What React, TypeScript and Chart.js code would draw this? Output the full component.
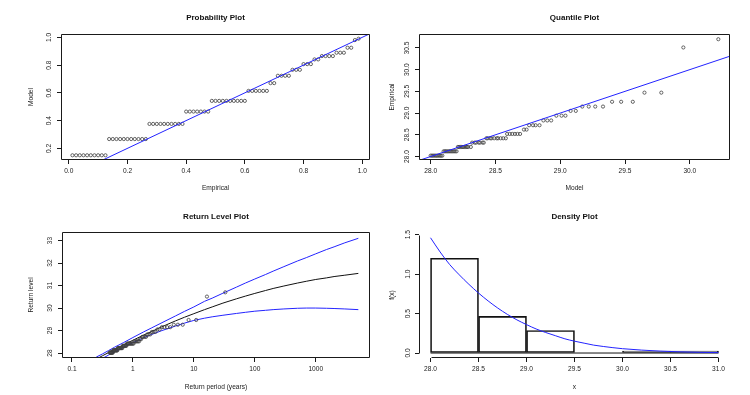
import React, { useEffect, useRef } from 'react';
import { Chart, registerables } from 'chart.js';

Chart.register(...registerables);

const FONT_FAMILY = '"Liberation Sans", Arial, Helvetica, sans-serif';
const TEXT = '#1a1a1a';
const FRAME = '#1a1a1a';
const BLUE = '#2323ff';
const POINT = '#404040';
const TITLE_SIZE = 8;
const LABEL_SIZE = 6.6;
const TICK_SIZE = 6.6;
const TICK_LEN = 4;

Chart.defaults.font.family = FONT_FAMILY;
Chart.defaults.color = TEXT;

// ---------------- Probability plot ----------------
const probEmpirical = [
  0.0125, 0.025, 0.0375, 0.05, 0.0625, 0.075, 0.0875, 0.1, 0.1125, 0.125,
  0.1375, 0.15, 0.1625, 0.175, 0.1875, 0.2, 0.2125, 0.225, 0.2375, 0.25, 0.2625,
  0.275, 0.2875, 0.3, 0.3125, 0.325, 0.3375, 0.35, 0.3625, 0.375, 0.3875,
  0.4, 0.4125, 0.425, 0.4375, 0.45, 0.4625, 0.475,
  0.4875, 0.5, 0.5125, 0.525, 0.5375, 0.55, 0.5625, 0.575, 0.5875, 0.6,
  0.6125, 0.625, 0.6375, 0.65, 0.6625, 0.675,
  0.6875, 0.7,
  0.7125, 0.725, 0.7375, 0.75,
  0.7625, 0.775, 0.7875,
  0.8, 0.8125, 0.825,
  0.8375, 0.85,
  0.8625, 0.875, 0.8875, 0.9,
  0.9125, 0.925, 0.9375,
  0.95, 0.9625,
  0.975, 0.9875,
];
const probModel = [
  0.15, 0.15, 0.15, 0.15, 0.15, 0.15, 0.15, 0.15, 0.15, 0.15,
  0.267, 0.267, 0.267, 0.267, 0.267, 0.267, 0.267, 0.267, 0.267, 0.267, 0.267,
  0.376, 0.376, 0.376, 0.376, 0.376, 0.376, 0.376, 0.376, 0.376, 0.376,
  0.465, 0.465, 0.465, 0.465, 0.465, 0.465, 0.465,
  0.542, 0.542, 0.542, 0.542, 0.542, 0.542, 0.542, 0.542, 0.542, 0.542,
  0.614, 0.614, 0.614, 0.614, 0.614, 0.614,
  0.67, 0.67,
  0.723, 0.723, 0.723, 0.723,
  0.766, 0.766, 0.766,
  0.807, 0.807, 0.807,
  0.841, 0.841,
  0.865, 0.865, 0.865, 0.865,
  0.889, 0.889, 0.889,
  0.925, 0.925,
  0.98, 0.99,
];
const probRefLine = [-0.1, 1.1];
const probXTicks = [0, 0.2, 0.4, 0.6, 0.8, 1.0];
const probXTickLabels = ['0.0', '0.2', '0.4', '0.6', '0.8', '1.0'];
const probYTicks = [0.2, 0.4, 0.6, 0.8, 1.0];
const probYTickLabels = ['0.2', '0.4', '0.6', '0.8', '1.0'];

// ---------------- Quantile plot ----------------
const quantModel = [
  28.0, 28.01, 28.02, 28.03, 28.04, 28.05, 28.06, 28.07, 28.08, 28.09,
  28.1, 28.11, 28.12, 28.13, 28.14, 28.15, 28.16, 28.17, 28.18, 28.19, 28.2,
  28.21, 28.22, 28.23, 28.24, 28.25, 28.26, 28.27, 28.28, 28.29, 28.31,
  28.32, 28.34, 28.35, 28.37, 28.38, 28.4, 28.41,
  28.43, 28.44, 28.46, 28.47, 28.49, 28.51, 28.52, 28.54, 28.56, 28.58,
  28.59, 28.61, 28.63, 28.65, 28.67, 28.69,
  28.72, 28.74,
  28.76, 28.79, 28.81, 28.84,
  28.87, 28.9, 28.93,
  28.97, 29.01, 29.04,
  29.08, 29.12,
  29.17, 29.22, 29.27, 29.33,
  29.4, 29.47, 29.56,
  29.65, 29.78,
  29.95, 30.22,
];
// sorted observations (shared by the quantile and return level plots)
const sortedData = [
  28.02, 28.02, 28.02, 28.02, 28.02, 28.02, 28.02, 28.02, 28.02, 28.02,
  28.12, 28.12, 28.12, 28.12, 28.12, 28.12, 28.12, 28.12, 28.12, 28.12, 28.12,
  28.22, 28.22, 28.22, 28.22, 28.22, 28.22, 28.22, 28.22, 28.22, 28.22,
  28.32, 28.32, 28.32, 28.32, 28.32, 28.32, 28.32,
  28.42, 28.42, 28.42, 28.42, 28.42, 28.42, 28.42, 28.42, 28.42, 28.42,
  28.52, 28.52, 28.52, 28.52, 28.52, 28.52,
  28.62, 28.62,
  28.72, 28.72, 28.72, 28.72,
  28.83, 28.83, 28.83,
  28.94, 28.94, 28.94,
  29.05, 29.05,
  29.15, 29.15, 29.15, 29.15,
  29.26, 29.26, 29.26,
  29.47, 29.47,
  30.51, 30.7,
];
const quantRefLine = [27, 31];
const quantXTicks = [28, 28.5, 29, 29.5, 30];
const quantXTickLabels = ['28.0', '28.5', '29.0', '29.5', '30.0'];
const quantYTicks = [28, 28.5, 29, 29.5, 30, 30.5];
const quantYTickLabels = ['28.0', '28.5', '29.0', '29.5', '30.0', '30.5'];

// ---------------- Return level plot ----------------
const returnPeriods = [
  0.415, 0.421, 0.426, 0.432, 0.437, 0.443, 0.449, 0.456, 0.462, 0.469,
  0.475, 0.482, 0.49, 0.497, 0.505, 0.513, 0.521, 0.529, 0.538, 0.547, 0.556,
  0.566, 0.575, 0.586, 0.596, 0.607, 0.619, 0.631, 0.643, 0.656, 0.669,
  0.683, 0.698, 0.713, 0.729, 0.745, 0.763, 0.781,
  0.8, 0.82, 0.841, 0.863, 0.886, 0.911, 0.937, 0.965, 0.994, 1.025,
  1.058, 1.093, 1.131, 1.171, 1.215, 1.262,
  1.312, 1.367,
  1.426, 1.491, 1.562, 1.64,
  1.726, 1.822, 1.929,
  2.05, 2.187, 2.343,
  2.523, 2.733,
  2.982, 3.28, 3.644, 4.1,
  4.686, 5.467, 6.56,
  8.2, 10.93,
  16.4, 32.8,
];
const rlCurvePeriods = [0.25, 0.316, 0.398, 0.5, 0.708, 1, 1.5, 2, 3, 5, 7, 10, 15, 20, 30, 50, 70, 100, 150, 200, 300, 500, 700, 1000, 1500, 2000, 3000, 5000];
const rlEstimate = [27.73, 27.88, 28.02, 28.16, 28.37, 28.57, 28.8, 28.95, 29.17, 29.43, 29.59, 29.75, 29.93, 30.05, 30.22, 30.41, 30.53, 30.65, 30.78, 30.87, 30.98, 31.11, 31.19, 31.27, 31.34, 31.4, 31.46, 31.54];
const rlUpper = [27.82, 27.96, 28.11, 28.26, 28.47, 28.69, 28.94, 29.11, 29.35, 29.65, 29.85, 30.05, 30.3, 30.44, 30.66, 30.93, 31.11, 31.29, 31.49, 31.64, 31.84, 32.09, 32.24, 32.41, 32.6, 32.72, 32.9, 33.1];
const rlLower = [27.62, 27.76, 27.91, 28.05, 28.26, 28.46, 28.68, 28.82, 29.0, 29.2, 29.33, 29.45, 29.55, 29.61, 29.68, 29.76, 29.81, 29.86, 29.9, 29.93, 29.96, 29.99, 30.0, 30.0, 29.99, 29.98, 29.96, 29.93];
const rlXTicks = [0.1, 1, 10, 100, 1000];
const rlXTickLabels = ['0.1', '1', '10', '100', '1000'];
const rlYTicks = [28, 29, 30, 31, 32, 33];
const rlYTickLabels = ['28', '29', '30', '31', '32', '33'];

// ---------------- Density plot ----------------
const histBreaks = [28, 28.5, 29, 29.5, 30, 30.5, 31];
const histDensity = [1.2, 0.465, 0.285, 0, 0.025, 0.025];
const densityX = [28.0, 28.1, 28.2, 28.3, 28.4, 28.5, 28.6, 28.7, 28.8, 28.9, 29.0, 29.1, 29.2, 29.3, 29.4, 29.5, 29.6, 29.7, 29.8, 29.9, 30.0, 30.2, 30.4, 30.6, 30.8, 31.0];
const densityY = [1.46, 1.28, 1.12, 0.99, 0.87, 0.76, 0.66, 0.57, 0.49, 0.42, 0.36, 0.305, 0.26, 0.22, 0.18, 0.15, 0.125, 0.1, 0.083, 0.068, 0.055, 0.037, 0.024, 0.015, 0.009, 0.005];
const densXTicks = [28, 28.5, 29, 29.5, 30, 30.5, 31];
const densXTickLabels = ['28.0', '28.5', '29.0', '29.5', '30.0', '30.5', '31.0'];
const densYTicks = [0, 0.5, 1, 1.5];
const densYTickLabels = ['0.0', '0.5', '1.0', '1.5'];

// ---------------- helpers ----------------
type Area = { l: number; t: number; r: number; b: number };
type AxisSpec = {
  type: 'linear' | 'logarithmic';
  min: number;
  max: number;
  ticks: number[];
  labels: string[];
  title: string;
  tickPad: number;
};
type PanelSpec = {
  key: string;
  x: number;
  y: number;
  w: number;
  h: number;
  area: Area;
  titleY: number;
  xLabelY: number;
  yLabelX: number;
  title: string;
  chartType: 'scatter' | 'bar';
  xAxis: AxisSpec;
  yAxis: AxisSpec;
  datasets: any[];
  frame: any;
};

const framePlugin = {
  id: 'rFrame',
  afterDatasetsDraw(chart: any, _args: any, opts: any) {
    const { ctx, chartArea: a } = chart;
    ctx.save();
    ctx.strokeStyle = FRAME;
    ctx.lineWidth = 1;
    ctx.beginPath();
    const L = Math.round(a.left) + 0.5;
    const R = Math.round(a.right) - 0.5;
    const T = Math.round(a.top) + 0.5;
    const B = Math.round(a.bottom) - 0.5;
    if (opts.mode === 'box') {
      ctx.rect(L, T, R - L, B - T);
    } else {
      const xs = chart.scales.x;
      const ys = chart.scales.y;
      ctx.moveTo(Math.round(xs.getPixelForValue(opts.xFrom)) + 0.5, B);
      ctx.lineTo(Math.round(xs.getPixelForValue(opts.xTo)) + 0.5, B);
      ctx.moveTo(L, Math.round(ys.getPixelForValue(opts.yFrom)) + 0.5);
      ctx.lineTo(L, Math.round(ys.getPixelForValue(opts.yTo)) + 0.5);
    }
    ctx.stroke();
    ctx.restore();
  },
};

function axisOptions(dir: 'x' | 'y', a: AxisSpec, spec: PanelSpec) {
  const isX = dir === 'x';
  const size = isX ? spec.h - spec.area.b : spec.area.l;
  const titleOffset = isX ? spec.h - spec.xLabelY : spec.yLabelX;
  const half = (LABEL_SIZE * 1.2) / 2;
  return {
    type: a.type,
    position: isX ? 'bottom' : 'left',
    min: a.min,
    max: a.max,
    bounds: 'data',
    offset: false,
    afterBuildTicks: (s: any) => {
      s.ticks = a.ticks.map((v) => ({ value: v }));
    },
    afterFit: (s: any) => {
      if (isX) s.height = size;
      else s.width = size;
      s.paddingLeft = 0;
      s.paddingRight = 0;
      s.paddingTop = 0;
      s.paddingBottom = 0;
    },
    grid: {
      display: true,
      drawOnChartArea: false,
      drawTicks: true,
      tickLength: TICK_LEN,
      tickWidth: 1,
      tickColor: FRAME,
      offset: false,
    },
    border: { display: false },
    ticks: {
      autoSkip: false,
      padding: a.tickPad,
      color: TEXT,
      font: { size: TICK_SIZE },
      callback: (_v: any, i: number) => a.labels[i],
      ...(isX
        ? { minRotation: 0, maxRotation: 0 }
        : { minRotation: 90, maxRotation: 90, crossAlign: 'center' }),
    },
    title: {
      display: true,
      text: a.title,
      color: TEXT,
      font: { size: LABEL_SIZE },
      padding: isX ? { top: 0, bottom: titleOffset - half } : { top: titleOffset - half, bottom: 0 },
    },
  };
}

function buildConfig(spec: PanelSpec): any {
  const tHalf = (TITLE_SIZE * 1.2) / 2;
  return {
    type: spec.chartType,
    data: { datasets: spec.datasets },
    plugins: [framePlugin],
    options: {
      responsive: false,
      maintainAspectRatio: false,
      animation: false,
      events: [],
      layout: {
        autoPadding: false,
        padding: { left: 0, top: 0, right: spec.w - spec.area.r, bottom: 0 },
      },
      scales: {
        x: axisOptions('x', spec.xAxis, spec),
        y: axisOptions('y', spec.yAxis, spec),
      },
      plugins: {
        legend: { display: false },
        tooltip: { enabled: false },
        title: {
          display: true,
          text: spec.title,
          fullSize: false,
          color: '#111',
          font: { size: TITLE_SIZE, weight: 'bold' },
          padding: { top: spec.titleY - tHalf, bottom: spec.area.t - spec.titleY - tHalf },
        },
        rFrame: spec.frame,
      },
    },
  };
}

const pointStyle = {
  pointStyle: 'circle',
  pointRadius: 1.6,
  pointBorderWidth: 0.8,
  pointBorderColor: POINT,
  pointBackgroundColor: 'rgba(0,0,0,0)',
  showLine: false,
};
const lineStyle = (color: string) => ({
  type: 'line',
  borderColor: color,
  borderWidth: 1,
  pointRadius: 0,
  fill: false,
  tension: 0,
});

const panels: PanelSpec[] = [
  {
    key: 'prob',
    x: 0, y: 0, w: 375, h: 197,
    area: { l: 61, t: 34, r: 370, b: 160 },
    titleY: 18, xLabelY: 187.7, yLabelX: 31,
    title: 'Probability Plot',
    chartType: 'scatter',
    xAxis: { type: 'linear', min: -0.0265, max: 1.0265, ticks: probXTicks, labels: probXTickLabels, title: 'Empirical', tickPad: 3.7 },
    yAxis: { type: 'linear', min: 0.116, max: 1.024, ticks: probYTicks, labels: probYTickLabels, title: 'Model', tickPad: 3.1 },
    datasets: [
      { ...lineStyle(BLUE), data: probRefLine.map((v) => ({ x: v, y: v })) },
      { type: 'scatter', ...pointStyle, data: probEmpirical.map((x, i) => ({ x, y: probModel[i] })) },
    ],
    frame: { mode: 'box' },
  },
  {
    key: 'quant',
    x: 375, y: 0, w: 375, h: 197,
    area: { l: 44, t: 34, r: 355, b: 160 },
    titleY: 18, xLabelY: 187.7, yLabelX: 17,
    title: 'Quantile Plot',
    chartType: 'scatter',
    xAxis: { type: 'linear', min: 27.91, max: 30.31, ticks: quantXTicks, labels: quantXTickLabels, title: 'Model', tickPad: 3.7 },
    yAxis: { type: 'linear', min: 27.92, max: 30.82, ticks: quantYTicks, labels: quantYTickLabels, title: 'Empirical', tickPad: 1.3 },
    datasets: [
      { ...lineStyle(BLUE), data: quantRefLine.map((v) => ({ x: v, y: v })) },
      { type: 'scatter', ...pointStyle, data: quantModel.map((x, i) => ({ x, y: sortedData[i] })) },
    ],
    frame: { mode: 'box' },
  },
  {
    key: 'rl',
    x: 0, y: 197, w: 375, h: 198,
    area: { l: 62, t: 35, r: 370, b: 161 },
    titleY: 19.7, xLabelY: 189.7, yLabelX: 31,
    title: 'Return Level Plot',
    chartType: 'scatter',
    xAxis: { type: 'logarithmic', min: 0.0686, max: 7770, ticks: rlXTicks, labels: rlXTickLabels, title: 'Return period (years)', tickPad: 3.7 },
    yAxis: { type: 'linear', min: 27.78, max: 33.38, ticks: rlYTicks, labels: rlYTickLabels, title: 'Return level', tickPad: 4.0 },
    datasets: [
      { type: 'scatter', ...pointStyle, data: returnPeriods.map((x, i) => ({ x, y: sortedData[i] })) },
      { ...lineStyle(BLUE), data: rlCurvePeriods.map((x, i) => ({ x, y: rlUpper[i] })) },
      { ...lineStyle(BLUE), data: rlCurvePeriods.map((x, i) => ({ x, y: rlLower[i] })) },
      { ...lineStyle('#111'), data: rlCurvePeriods.map((x, i) => ({ x, y: rlEstimate[i] })) },
    ],
    frame: { mode: 'box' },
  },
  {
    key: 'dens',
    x: 375, y: 197, w: 375, h: 198,
    area: { l: 44, t: 35, r: 355, b: 161 },
    titleY: 19.7, xLabelY: 189.7, yLabelX: 17,
    title: 'Density Plot',
    chartType: 'bar',
    xAxis: { type: 'linear', min: 27.88, max: 31.12, ticks: densXTicks, labels: densXTickLabels, title: 'x', tickPad: 3.7 },
    yAxis: { type: 'linear', min: -0.063, max: 1.533, ticks: densYTicks, labels: densYTickLabels, title: 'f(x)', tickPad: 2.6 },
    datasets: [
      { ...lineStyle(BLUE), cubicInterpolationMode: 'monotone', data: densityX.map((x, i) => ({ x, y: densityY[i] })) },
      { ...lineStyle('#111'), data: [histBreaks[0], histBreaks[histBreaks.length - 1]].map((x) => ({ x, y: 0 })) },
      {
        type: 'bar',
        data: histDensity.map((d, i) => ({ x: (histBreaks[i] + histBreaks[i + 1]) / 2, y: d })),
        backgroundColor: 'rgba(0,0,0,0)',
        borderColor: '#111',
        borderWidth: 1,
        borderSkipped: false,
        barPercentage: 1,
        categoryPercentage: 1,
        grouped: false,
      },
    ],
    frame: { mode: 'axes', xFrom: densXTicks[0], xTo: densXTicks[densXTicks.length - 1], yFrom: densYTicks[0], yTo: densYTicks[densYTicks.length - 1] },
  },
];

function Panel({ spec }: { spec: PanelSpec }) {
  const ref = useRef<HTMLCanvasElement>(null);
  useEffect(() => {
    if (!ref.current) return;
    const chart = new Chart(ref.current, buildConfig(spec));
    return () => chart.destroy();
  }, [spec]);
  return (
    <canvas
      ref={ref}
      width={spec.w}
      height={spec.h}
      style={{ position: 'absolute', left: spec.x, top: spec.y, width: spec.w, height: spec.h, display: 'block' }}
    />
  );
}

export default function App() {
  return (
    <div
      style={{
        position: 'absolute',
        left: 0,
        top: 0,
        width: 750,
        height: 395,
        background: '#ffffff',
        overflow: 'hidden',
      }}
    >
      {panels.map((p) => (
        <Panel key={p.key} spec={p} />
      ))}
    </div>
  );
}
